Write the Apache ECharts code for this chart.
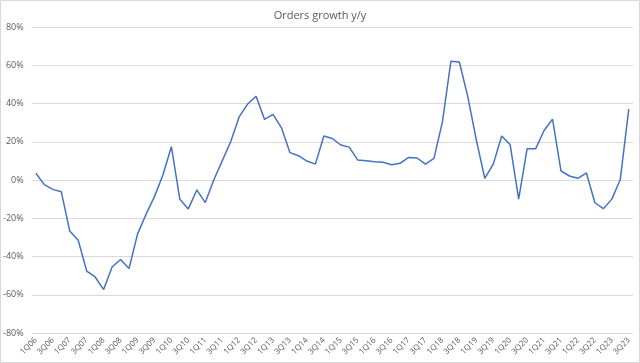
<!DOCTYPE html>
<html>
<head>
<meta charset="utf-8">
<script src="https://cdn.jsdelivr.net/npm/echarts@6/dist/echarts.min.js"></script>
<style>
html,body{margin:0;padding:0;background:#fff;}
#chart{width:640px;height:363px;}
</style>
</head>
<body>
<div id="chart"></div>
<script>
// quarters 1Q06 .. 3Q23
var quarters = [
  "1Q06","2Q06","3Q06","4Q06","1Q07","2Q07","3Q07","4Q07",
  "1Q08","2Q08","3Q08","4Q08","1Q09","2Q09","3Q09","4Q09",
  "1Q10","2Q10","3Q10","4Q10","1Q11","2Q11","3Q11","4Q11",
  "1Q12","2Q12","3Q12","4Q12","1Q13","2Q13","3Q13","4Q13",
  "1Q14","2Q14","3Q14","4Q14","1Q15","2Q15","3Q15","4Q15",
  "1Q16","2Q16","3Q16","4Q16","1Q17","2Q17","3Q17","4Q17",
  "1Q18","2Q18","3Q18","4Q18","1Q19","2Q19","3Q19","4Q19",
  "1Q20","2Q20","3Q20","4Q20","1Q21","2Q21","3Q21","4Q21",
  "1Q22","2Q22","3Q22","4Q22","1Q23","2Q23","3Q23"
];
// orders growth y/y, percent
var growth = [
  3.5, -2.4, -4.9, -6.1, -26.7, -31.5, -47.6, -50.7,
  -57.3, -45.5, -41.6, -46.3, -28.3, -18.0, -8.7, 2.6,
  17.4, -10.1, -15.1, -5.2, -11.8, 0.0, 10.0, 20.0,
  33.0, 39.7, 43.8, 31.7, 34.3, 27.3, 14.3, 12.7,
  9.9, 8.3, 23.0, 21.7, 18.3, 17.2, 10.4, 10.1,
  9.6, 9.3, 8.0, 8.7, 11.8, 11.5, 8.3, 11.3,
  30.4, 62.1, 61.7, 43.5, 21.0, 0.9, 8.3, 23.0,
  18.4, -10.0, 16.4, 16.3, 25.9, 31.8, 4.7, 2.1,
  0.9, 3.7, -11.9, -15.0, -10.0, 0.3, 37.1
];

var chart = echarts.init(document.getElementById('chart'));
var option = {
  backgroundColor: '#fff',
  animation: false,
  title: {
    text: 'Orders growth y/y',
    left: 'center',
    top: 5,
    textStyle: {fontSize: 11, fontWeight: 'normal', color: '#595959', fontFamily: 'Open Sans'}
  },
  graphic: [{
    type: 'rect',
    shape: {x: 0.5, y: 0.5, width: 639, height: 362},
    style: {fill: 'none', stroke: '#d9d9d9', lineWidth: 1}
  }],
  grid: {left: 30, right: 7, top: 27, bottom: 30},
  xAxis: {
    type: 'category',
    data: quarters,
    axisLine: {show: false},
    axisTick: {show: false},
    axisLabel: {
      interval: 1,
      rotate: 45,
      fontSize: 8,
      color: '#595959',
      fontFamily: 'Open Sans',
      margin: 6
    }
  },
  yAxis: {
    type: 'value',
    min: -80,
    max: 80,
    interval: 20,
    axisLine: {show: false},
    axisTick: {show: false},
    splitLine: {lineStyle: {color: '#d9d9d9', width: 1}},
    axisLabel: {
      formatter: '{value}%',
      fontSize: 9,
      color: '#595959',
      fontFamily: 'Open Sans',
      margin: 8
    }
  },
  series: [{
    name: 'Orders growth y/y',
    type: 'line',
    data: growth,
    showSymbol: false,
    lineStyle: {color: '#4472C4', width: 1.5},
    itemStyle: {color: '#4472C4'}
  }]
};
chart.setOption(option);
</script>
</body>
</html>
